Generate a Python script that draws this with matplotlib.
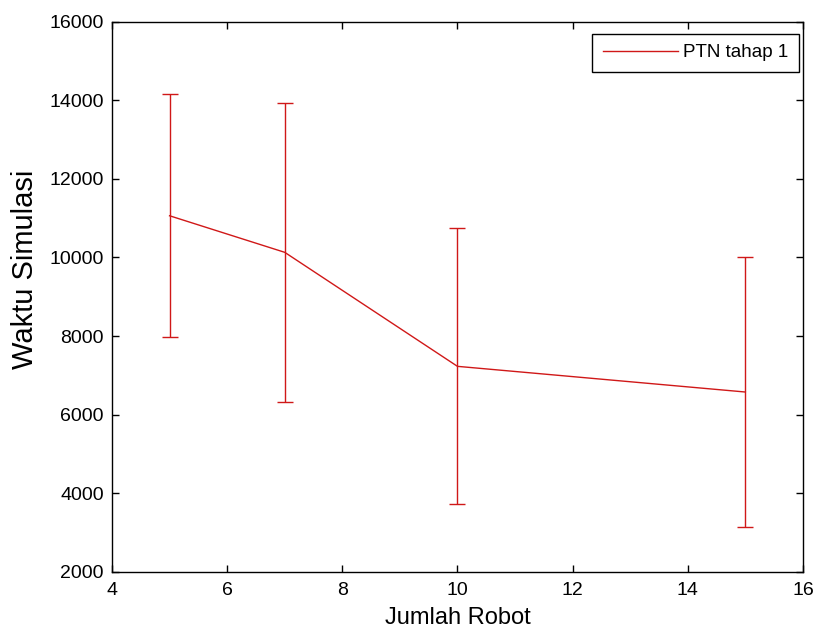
import matplotlib
matplotlib.use("Agg")
import matplotlib.pyplot as plt

# ── Data ──────────────────────────────────────────────
jumlah_robot = [5, 7, 10, 15]
waktu_mean   = [11060, 10130, 7230, 6577]
waktu_err    = [3095, 3795, 3510, 3425]
x_ticks = [4, 6, 8, 10, 12, 14, 16]
y_ticks = [2000, 4000, 6000, 8000, 10000, 12000, 14000, 16000]

plt.rcParams["font.family"] = ["Liberation Sans", "DejaVu Sans"]

fig = plt.figure(figsize=(8.21, 6.33), dpi=100, facecolor="white")
ax = fig.add_axes([0.1364, 0.0964, 0.8416, 0.8696])

eb = ax.errorbar(jumlah_robot, waktu_mean, yerr=waktu_err,
                 color="#d01818", linewidth=1.0, elinewidth=1.0,
                 capsize=6, capthick=1.0)

ax.set_xlim(4, 16)
ax.set_ylim(2000, 16000)
ax.set_xticks(x_ticks)
ax.set_yticks(y_ticks)
ax.tick_params(direction="in", top=True, right=True, length=5,
               width=1, labelsize=14, colors="black")
ax.tick_params(axis="x", pad=7)
ax.tick_params(axis="y", pad=6)
for spine in ax.spines.values():
    spine.set_linewidth(1)

ax.set_xlabel("Jumlah Robot", fontsize=17)
ax.set_ylabel("Waktu Simulasi", fontsize=21)
ax.xaxis.set_label_coords(0.5, -0.063)
ax.yaxis.set_label_coords(-0.106, 0.549)

# legend shows only the line, like MATLAB
leg = ax.legend(handles=[eb[0]], labels=["PTN tahap 1"],
                loc="upper right", bbox_to_anchor=(0.9942, 0.9773),
                borderaxespad=0, fontsize=13.5, fancybox=False,
                edgecolor="black", framealpha=1, borderpad=0.55,
                handlelength=4.0, handletextpad=0.3)
leg.get_frame().set_linewidth(1)

fig.savefig("out.png", dpi=100)
